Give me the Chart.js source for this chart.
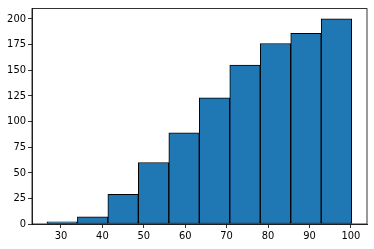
<!DOCTYPE html>
<html>
<head>
<meta charset="utf-8">
<script src="https://cdn.jsdelivr.net/npm/chart.js@4/dist/chart.umd.min.js"></script>
<style>
  html, body { margin: 0; padding: 0; background: #fff; }
  #wrap { width: 374px; height: 249px; }
</style>
</head>
<body>
<div id="wrap"><canvas id="histChart" width="374" height="249"></canvas></div>
<script>
// histogram bins (centers) and counts
var binCenters = [30.28, 37.64, 45.00, 52.36, 59.72, 67.08, 74.44, 81.80, 89.16, 96.52];
var counts = [2, 7, 29, 60, 89, 123, 155, 176, 186, 200];
var xTicks = [30, 40, 50, 60, 70, 80, 90, 100];
var yTicks = [0, 25, 50, 75, 100, 125, 150, 175, 200];

var FONT = { family: "'Liberation Sans Narrow', 'DejaVu Sans Condensed', sans-serif", size: 11 };

// frame around plot area (top and right spines)
var framePlugin = {
  id: 'frame',
  afterDraw: function (chart) {
    var a = chart.chartArea, c = chart.ctx;
    c.save();
    c.strokeStyle = '#000';
    c.lineWidth = 0.8;
    c.strokeRect(a.left, a.top, a.right - a.left, a.bottom - a.top);
    c.restore();
  }
};

var ctx = document.getElementById("histChart").getContext('2d');
var histChart = new Chart(ctx, {
  type: 'bar',
  data: {
    datasets: [{
      data: binCenters.map(function (x, i) { return { x: x, y: counts[i] }; }),
      backgroundColor: '#1f77b4',
      borderColor: '#000',
      borderWidth: 1,
      borderSkipped: false,
      barPercentage: 1,
      categoryPercentage: 1
    }]
  },
  options: {
    responsive: false,
    animation: false,
    layout: { padding: { top: 6, right: 7, left: 0, bottom: 0 } },
    plugins: { legend: { display: false }, tooltip: { enabled: false } },
    scales: {
      x: {
        type: 'linear',
        offset: false,
        min: 23.0,
        max: 103.9,
        afterBuildTicks: function (s) { s.ticks = xTicks.map(function (v) { return { value: v }; }); },
        afterFit: function (s) { s.height = 25; },
        grid: { drawOnChartArea: false, offset: false, color: '#000', tickLength: 4, tickWidth: 0.8 },
        border: { color: '#000', width: 0.8 },
        ticks: { color: '#000', font: FONT, padding: 2, maxRotation: 0, autoSkip: false }
      },
      y: {
        min: 0,
        max: 210,
        afterBuildTicks: function (s) { s.ticks = yTicks.map(function (v) { return { value: v }; }); },
        afterFit: function (s) { s.width = 32; },
        grid: { drawOnChartArea: false, color: '#000', tickLength: 4, tickWidth: 0.8 },
        border: { color: '#000', width: 0.8 },
        ticks: { color: '#000', font: FONT, padding: 2, autoSkip: false }
      }
    }
  },
  plugins: [framePlugin]
});
</script>
</body>
</html>
